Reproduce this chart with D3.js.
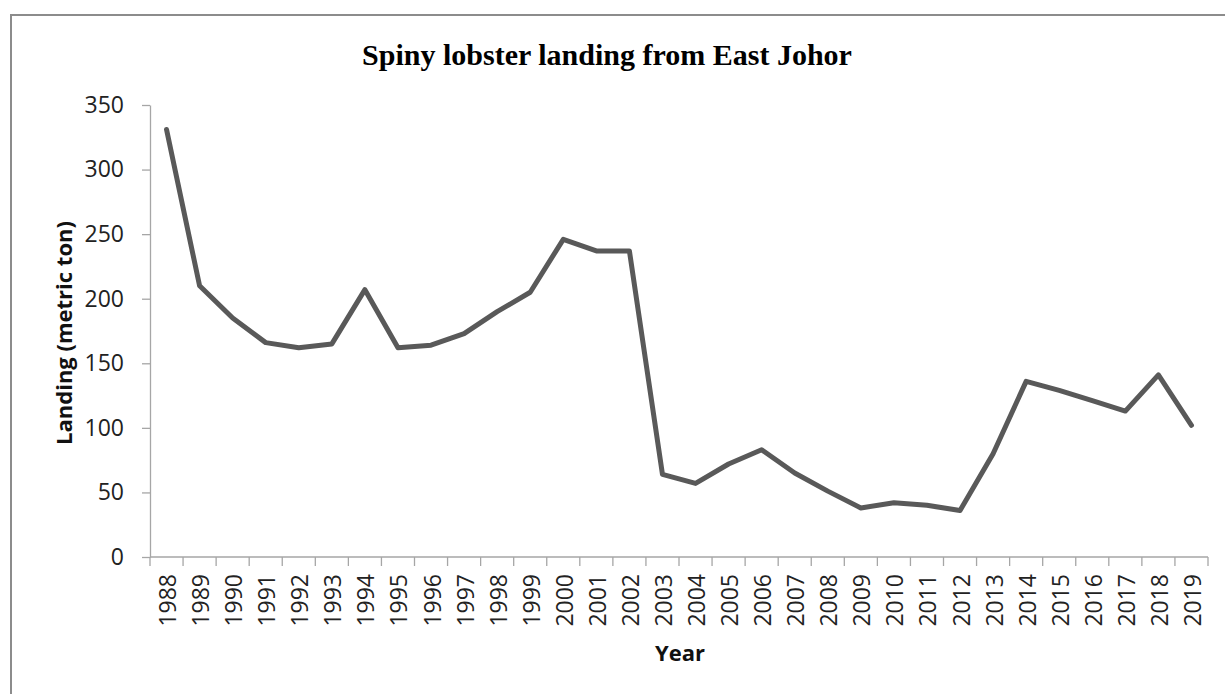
<!DOCTYPE html>
<html>
<head>
<meta charset="utf-8">
<script src="https://cdn.jsdelivr.net/npm/d3@7"></script>
<style>
  body { margin: 0; background: #fff; }
  svg { display: block; }
</style>
</head>
<body>
<svg id="chart" width="1225" height="694"></svg>
<script>
var years = ["1988","1989","1990","1991","1992","1993","1994","1995","1996","1997",
  "1998","1999","2000","2001","2002","2003","2004","2005","2006","2007",
  "2008","2009","2010","2011","2012","2013","2014","2015","2016","2017","2018","2019"];
var landing = [331, 210, 185, 166, 162, 165, 207, 162, 164, 173,
  190, 205, 246, 237, 237, 64, 57, 72, 83, 65,
  51, 38, 42, 40, 36, 80, 136, 129, 121, 113, 141, 102];
var yTicks = [0, 50, 100, 150, 200, 250, 300, 350];

var svg = d3.select("#chart");
var margin = {left: 150, top: 105, right: 1208, bottom: 557};

// outer frame
svg.append("rect")
  .attr("x", 11).attr("y", 15)
  .attr("width", 1240).attr("height", 700)
  .attr("fill", "none")
  .attr("stroke", "#8c8c8c")
  .attr("stroke-width", 2);

var x = d3.scaleBand().domain(years).range([margin.left, margin.right]);
var y = d3.scaleLinear().domain([0, 350]).range([margin.bottom, margin.top]);

// y axis
var yAxis = svg.append("g")
  .attr("transform", "translate(" + margin.left + ",0)")
  .call(d3.axisLeft(y).tickValues(yTicks).tickSize(8).tickPadding(18).tickSizeOuter(0));
yAxis.select(".domain").attr("stroke", "#a6a6a6").attr("stroke-width", 1.3);
yAxis.selectAll(".tick line").attr("stroke", "#a6a6a6").attr("stroke-width", 1.3);
yAxis.selectAll("text")
  .attr("font-family", "Open Sans, sans-serif")
  .attr("font-size", 23)
  .attr("fill", "#222");

// x axis, ticks on band boundaries
var xAxis = svg.append("g")
  .attr("transform", "translate(0," + margin.bottom + ")");
xAxis.append("line")
  .attr("x1", margin.left).attr("x2", margin.right)
  .attr("stroke", "#a6a6a6").attr("stroke-width", 1.3);
var bounds = years.map(function(d) { return x(d); }).concat([x(years[years.length - 1]) + x.bandwidth()]);
xAxis.selectAll(".bt").data(bounds).enter().append("line")
  .attr("x1", function(d) { return d; }).attr("x2", function(d) { return d; })
  .attr("y1", 0).attr("y2", 9)
  .attr("stroke", "#a6a6a6").attr("stroke-width", 1.3);
xAxis.selectAll(".lbl").data(years).enter().append("text")
  .attr("transform", function(d) {
    return "translate(" + (x(d) + x.bandwidth() / 2 + 9.5) + ",17) rotate(-90)";
  })
  .attr("text-anchor", "end")
  .attr("font-family", "Open Sans, sans-serif")
  .attr("font-size", 23)
  .attr("fill", "#222")
  .text(function(d) { return d; });

// line
var line = d3.line()
  .x(function(d, i) { return x(years[i]) + x.bandwidth() / 2; })
  .y(function(d) { return y(d); });
svg.append("path")
  .datum(landing)
  .attr("d", line)
  .attr("fill", "none")
  .attr("stroke", "#595959")
  .attr("stroke-width", 5)
  .attr("stroke-linejoin", "round")
  .attr("stroke-linecap", "round");

// title and axis titles
svg.append("text")
  .attr("x", 607).attr("y", 65)
  .attr("text-anchor", "middle")
  .attr("font-family", "Liberation Serif, Times New Roman, serif")
  .attr("font-weight", "bold")
  .attr("font-size", 30)
  .attr("fill", "#000")
  .text("Spiny lobster landing from East Johor");

svg.append("text")
  .attr("transform", "translate(72,333) rotate(-90)")
  .attr("text-anchor", "middle")
  .attr("font-family", "Open Sans, sans-serif")
  .attr("font-weight", "bold")
  .attr("font-size", 22)
  .attr("fill", "#111")
  .text("Landing (metric ton)");

svg.append("text")
  .attr("x", 680).attr("y", 661)
  .attr("text-anchor", "middle")
  .attr("font-family", "Open Sans, sans-serif")
  .attr("font-weight", "bold")
  .attr("font-size", 22)
  .attr("fill", "#111")
  .text("Year");
</script>
</body>
</html>
